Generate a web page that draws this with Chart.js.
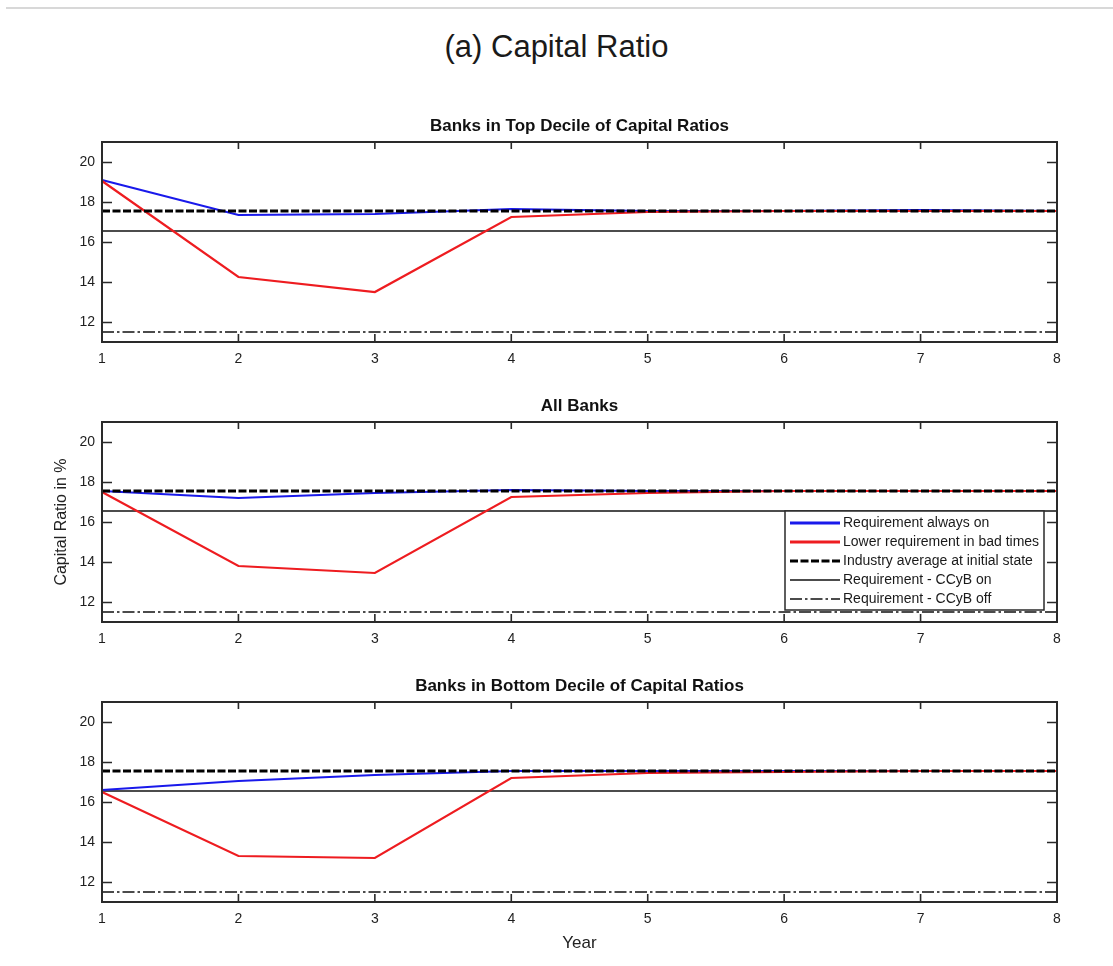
<!DOCTYPE html>
<html>
<head>
<meta charset="utf-8">
<title>Capital Ratio</title>
<script src="https://cdn.jsdelivr.net/npm/chart.js@4.4.1/dist/chart.umd.min.js"></script>
<style>
  html, body { margin: 0; padding: 0; background: #fff; }
  #page { position: relative; width: 1113px; height: 966px; overflow: hidden; background: #fff; }
  .rule { position: absolute; left: 6px; top: 7px; width: 1107px; height: 2px; background: #d8d8d8; }
  h1 { position: absolute; left: 0; top: 28px; width: 1113px; margin: 0; text-align: center;
       font: 400 31px/38px 'Liberation Sans', Arial, sans-serif; color: #1a1a1a; }
  canvas { position: absolute; left: 0; }
</style>
</head>
<body>
<div id="page">
  <div class="rule"></div>
  <h1>(a) Capital Ratio</h1>
  <canvas id="topDecile" width="1113" height="272" style="top:100px"></canvas>
  <canvas id="allBanks" width="1113" height="272" style="top:380px"></canvas>
  <canvas id="bottomDecile" width="1113" height="304" style="top:660px"></canvas>
</div>
<script>
// Horizon in years and y-axis tick values
const years = [1, 2, 3, 4, 5, 6, 7, 8];
const yTickValues = [12, 14, 16, 18, 20];

const seriesNames = [
  'Requirement always on',
  'Lower requirement in bad times',
  'Industry average at initial state',
  'Requirement - CCyB on',
  'Requirement - CCyB off'
];

// Banks in top decile of capital ratios (%)
const topAlwaysOn   = [19.1, 17.35, 17.4, 17.65, 17.55, 17.55, 17.6, 17.55];
const topLowerBad   = [19.05, 14.25, 13.5, 17.25, 17.5, 17.55, 17.55, 17.55];

// All banks (%)
const allAlwaysOn   = [17.55, 17.2, 17.45, 17.6, 17.55, 17.55, 17.55, 17.55];
const allLowerBad   = [17.5, 13.8, 13.45, 17.25, 17.45, 17.55, 17.55, 17.55];

// Banks in bottom decile of capital ratios (%)
const bottomAlwaysOn = [16.6, 17.05, 17.35, 17.55, 17.55, 17.55, 17.55, 17.55];
const bottomLowerBad = [16.5, 13.3, 13.2, 17.2, 17.45, 17.5, 17.55, 17.55];

// Reference levels shared by every panel (%)
const industryAverage    = [17.55, 17.55, 17.55, 17.55, 17.55, 17.55, 17.55, 17.55];
const ccybOnRequirement  = [16.55, 16.55, 16.55, 16.55, 16.55, 16.55, 16.55, 16.55];
const ccybOffRequirement = [11.5, 11.5, 11.5, 11.5, 11.5, 11.5, 11.5, 11.5];

const FONT = "'Liberation Sans', Arial, Helvetica, sans-serif";
Chart.defaults.font.family = FONT;
Chart.defaults.color = '#1e1e1e';

// Panel heading centred over the plot box, plus a closed box with inward ticks
const boxFrame = {
  id: 'boxFrame',
  defaults: { heading: '' },
  afterDraw(chart, args, opts) {
    const { ctx, chartArea: a, scales: { x, y } } = chart;
    ctx.save();
    ctx.strokeStyle = '#2a2a2a';
    ctx.lineWidth = 1.6;
    ctx.beginPath();
    y.ticks.forEach(t => {
      const py = Math.round(y.getPixelForValue(t.value)) + 0.5;
      ctx.moveTo(a.left, py); ctx.lineTo(a.left + 10, py);
      ctx.moveTo(a.right, py); ctx.lineTo(a.right - 10, py);
    });
    x.ticks.forEach((t, i) => {
      const px = x.getPixelForTick(i);
      ctx.moveTo(px, a.bottom); ctx.lineTo(px, a.bottom - 8);
      ctx.moveTo(px, a.top); ctx.lineTo(px, a.top + 7);
    });
    ctx.stroke();
    ctx.lineWidth = 2;
    ctx.strokeRect(a.left, a.top, a.right - a.left, a.bottom - a.top);

    if (opts.heading) {
      ctx.font = 'bold 17px ' + FONT;
      ctx.fillStyle = '#111';
      ctx.textAlign = 'center';
      ctx.textBaseline = 'middle';
      ctx.fillText(opts.heading, (a.left + a.right) / 2, a.top - 16);
    }
    ctx.restore();
  }
};

// Boxed legend placed inside the lower-right part of the plot area
const insetLegend = {
  id: 'insetLegend',
  defaults: { display: false },
  afterDatasetsDraw(chart, args, opts) {
    if (!opts.display) return;
    const { ctx, chartArea: a } = chart;
    const w = 259, h = 99;
    const x0 = a.right - 13 - w;
    const y0 = a.bottom - 12 - h;
    ctx.save();
    ctx.fillStyle = '#fff';
    ctx.fillRect(x0, y0, w, h);
    ctx.strokeStyle = '#2a2a2a';
    ctx.lineWidth = 1.5;
    ctx.strokeRect(x0, y0, w, h);
    ctx.font = '14px ' + FONT;
    ctx.textBaseline = 'middle';
    ctx.textAlign = 'left';
    chart.data.datasets.forEach((ds, i) => {
      const cy = y0 + 12 + i * 19;
      ctx.strokeStyle = ds.borderColor;
      ctx.lineWidth = ds.legendWidth || ds.borderWidth;
      ctx.setLineDash(ds.borderDash || []);
      ctx.beginPath();
      ctx.moveTo(x0 + 5, cy);
      ctx.lineTo(x0 + 55, cy);
      ctx.stroke();
      ctx.setLineDash([]);
      ctx.fillStyle = '#1a1a1a';
      ctx.fillText(ds.label, x0 + 58, cy);
    });
    ctx.restore();
  }
};

function buildDatasets(alwaysOn, lowerBad) {
  return [
    { label: seriesNames[0], data: alwaysOn, borderColor: 'rgb(25,25,235)', borderWidth: 2.2, legendWidth: 3, order: 2 },
    { label: seriesNames[1], data: lowerBad, borderColor: 'rgb(238,28,32)', borderWidth: 2.2, legendWidth: 3, order: 1 },
    { label: seriesNames[2], data: industryAverage, borderColor: '#000', borderWidth: 3, borderDash: [8, 2.5], order: 0 },
    { label: seriesNames[3], data: ccybOnRequirement, borderColor: '#111', borderWidth: 1.6, order: 3 },
    { label: seriesNames[4], data: ccybOffRequirement, borderColor: '#111', borderWidth: 1.7, borderDash: [12, 3, 2.5, 3], order: 4 }
  ];
}

function makePanel(id, heading, alwaysOn, lowerBad, extra) {
  const showYTitle = !!extra.yTitle;
  const showXTitle = !!extra.xTitle;
  return new Chart(document.getElementById(id), {
    type: 'line',
    data: { labels: years, datasets: buildDatasets(alwaysOn, lowerBad) },
    options: {
      responsive: false,
      animation: false,
      events: [],
      layout: { padding: { left: 0, right: 56, top: 42, bottom: 0 } },
      elements: { point: { radius: 0 }, line: { tension: 0, fill: false } },
      plugins: {
        legend: { display: false },
        tooltip: { enabled: false },
        title: { display: false },
        boxFrame: { heading: heading },
        insetLegend: { display: !!extra.legend }
      },
      scales: {
        x: {
          type: 'category',
          offset: false,
          grid: { display: false, drawTicks: false },
          border: { display: false },
          ticks: { font: { size: 14 }, color: '#1e1e1e', padding: 9, maxRotation: 0, autoSkip: false },
          title: {
            display: showXTitle,
            text: extra.xTitle || '',
            color: '#222',
            font: { size: 17 },
            padding: { top: 0, bottom: 10.8 }
          },
          afterFit(scale) { scale.height = showXTitle ? 62 : 30; }
        },
        y: {
          min: 11,
          max: 21,
          grid: { display: false, drawTicks: false },
          border: { display: false },
          ticks: { font: { size: 14 }, color: '#1e1e1e', padding: 7 },
          afterBuildTicks(scale) { scale.ticks = yTickValues.map(v => ({ value: v })); },
          title: {
            display: showYTitle,
            text: extra.yTitle || '',
            color: '#222',
            font: { size: 16 },
            padding: { top: 52.4, bottom: 0 }
          },
          afterFit(scale) { scale.width = 102; }
        }
      }
    },
    plugins: [insetLegend, boxFrame]
  });
}

makePanel('topDecile', 'Banks in Top Decile of Capital Ratios', topAlwaysOn, topLowerBad, {});
makePanel('allBanks', 'All Banks', allAlwaysOn, allLowerBad, { legend: true, yTitle: 'Capital Ratio in %' });
makePanel('bottomDecile', 'Banks in Bottom Decile of Capital Ratios', bottomAlwaysOn, bottomLowerBad, { xTitle: 'Year' });
</script>
</body>
</html>
